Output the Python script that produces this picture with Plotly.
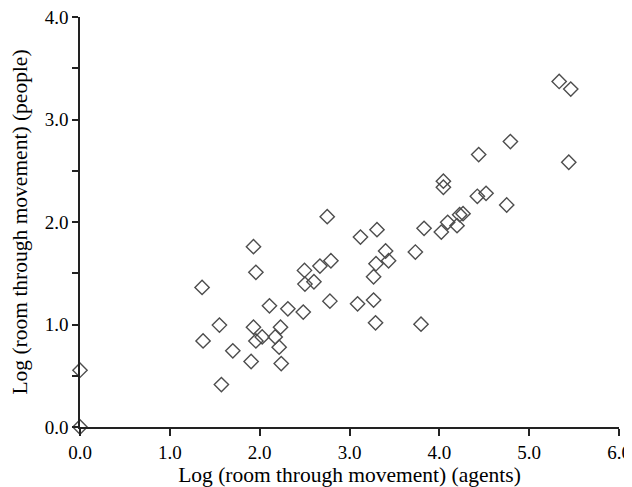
import plotly.graph_objects as go

agents = [0.0, 0.0, 1.359, 1.370, 1.552, 1.574, 1.701, 1.905, 1.931, 1.958, 1.931, 1.958,
          2.028, 2.109, 2.173, 2.217, 2.232, 2.240, 2.314, 2.485, 2.499, 2.504, 2.604,
          2.671, 2.752, 2.793, 2.782, 3.122, 3.306, 3.402, 3.435, 3.295, 3.268, 3.090,
          3.268, 3.290, 3.733, 3.830, 3.796, 4.022, 4.093, 4.197, 4.226, 4.264, 4.750,
          5.334, 5.463, 4.791, 4.438, 5.441, 4.045, 4.045, 4.423, 4.520]
people = [0.0, 0.554, 1.362, 0.840, 0.994, 0.414, 0.743, 0.639, 1.759, 1.509, 0.974, 0.840,
          0.879, 1.182, 0.879, 0.779, 0.974, 0.619, 1.153, 1.121, 1.528, 1.394, 1.417,
          1.570, 2.052, 1.622, 1.228, 1.853, 1.925, 1.717, 1.622, 1.593, 1.466, 1.202,
          1.238, 1.016, 1.707, 1.938, 1.003, 1.902, 1.997, 1.964, 2.071, 2.081, 2.166,
          3.371, 3.297, 2.785, 2.658, 2.583, 2.398, 2.339, 2.251, 2.280]

x_ticks = [0, 1, 2, 3, 4, 5, 6]
y_ticks = [0, 1, 2, 3, 4]

fig = go.Figure(go.Scatter(
    x=agents, y=people, mode="markers",
    marker=dict(symbol="diamond-open", size=11, color="#4d4d4d", line=dict(width=1.4)),
    cliponaxis=False, showlegend=False))

font = dict(family="Liberation Serif", size=19, color="black")
fig.update_layout(
    width=632, height=487,
    margin=dict(l=72, r=21, t=9, b=68),
    plot_bgcolor="white", paper_bgcolor="white",
    font=font,
    xaxis=dict(range=[0, 6], tickvals=x_ticks, tickformat=".1f", ticklabeloverflow="allow",
               automargin=False,
               showline=True, linecolor="#222", linewidth=1.5,
               ticks="outside", ticklen=7, tickwidth=1.5, tickcolor="#222",
               showgrid=False, zeroline=False,
               title=dict(text="Log (room through movement) (agents)", font=dict(size=21.5), standoff=4)),
    yaxis=dict(range=[0, 4], tickvals=y_ticks, tickformat=".1f", ticklabeloverflow="allow",
               automargin=False,
               showline=True, linecolor="#222", linewidth=1.5,
               ticks="outside", ticklen=6, tickwidth=1.5, tickcolor="#222",
               minor=dict(dtick=0.5, ticks="outside", ticklen=6, tickwidth=1.5, tickcolor="#222", showgrid=False),
               showgrid=False, zeroline=False,
               title=dict(text="Log (room through movement) (people)", font=dict(size=21.5), standoff=13)),
)
fig.write_html("out.html")
